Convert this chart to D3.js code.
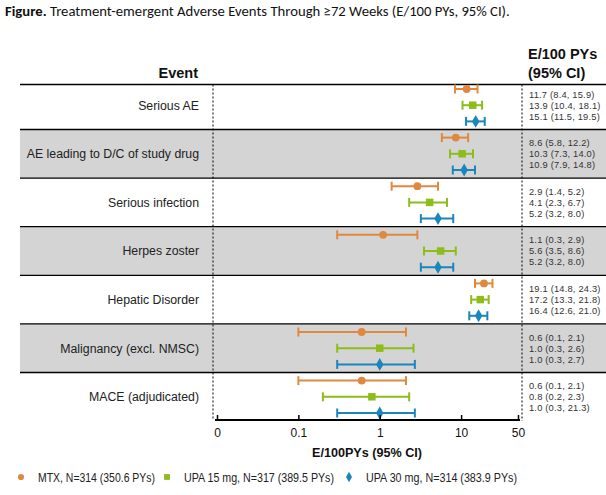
<!DOCTYPE html>
<html><head><meta charset="utf-8">
<script src="https://cdn.jsdelivr.net/npm/d3@7"></script>
<style>body{margin:0;background:#fff}svg{display:block}svg text{font-family:'Liberation Sans',Arial,sans-serif}svg text.title{font-family:Carlito,'Open Sans','Noto Sans',sans-serif}</style>
</head><body>
<svg id="c" width="606" height="495"></svg>
<script>
const events = ["Serious AE","AE leading to D/C of study drug","Serious infection","Herpes zoster","Hepatic Disorder","Malignancy (excl. NMSC)","MACE (adjudicated)"];
const seriesNames = ["MTX, N=314 (350.6 PYs)","UPA 15 mg, N=317 (389.5 PYs)","UPA 30 mg, N=314 (383.9 PYs)"];
const seriesColors = ["#E0883E","#8CBD1A","#1B86BB"];
const mtxEst = [11.7, 8.6, 2.9, 1.1, 19.1, 0.6, 0.6];
const mtxLo  = [8.4, 5.8, 1.4, 0.3, 14.8, 0.1, 0.1];
const mtxHi  = [15.9, 12.2, 5.2, 2.9, 24.3, 2.1, 2.1];
const upa15Est = [13.9, 10.3, 4.1, 5.6, 17.2, 1.0, 0.8];
const upa15Lo  = [10.4, 7.3, 2.3, 3.5, 13.3, 0.3, 0.2];
const upa15Hi  = [18.1, 14.0, 6.7, 8.6, 21.8, 2.6, 2.3];
const upa30Est = [15.1, 10.9, 5.2, 5.2, 16.4, 1.0, 1.0];
const upa30Lo  = [11.5, 7.9, 3.2, 3.2, 12.6, 0.3, 0.3];
const upa30Hi  = [19.5, 14.8, 8.0, 8.0, 21.0, 2.7, 2.7];
// CI column text as printed in the source table
const ciText = [
  ["11.7 (8.4, 15.9)","13.9 (10.4, 18.1)","15.1 (11.5, 19.5)"],
  ["8.6 (5.8, 12.2)","10.3 (7.3, 14.0)","10.9 (7.9, 14.8)"],
  ["2.9 (1.4, 5.2)","4.1 (2.3, 6.7)","5.2 (3.2, 8.0)"],
  ["1.1 (0.3, 2.9)","5.6 (3.5, 8.6)","5.2 (3.2, 8.0)"],
  ["19.1 (14.8, 24.3)","17.2 (13.3, 21.8)","16.4 (12.6, 21.0)"],
  ["0.6 (0.1, 2.1)","1.0 (0.3, 2.6)","1.0 (0.3, 2.7)"],
  ["0.6 (0.1, 2.1)","0.8 (0.2, 2.3)","1.0 (0.3, 21.3)"]
];
const tickValues = [0.01, 0.1, 1, 10, 50];
const tickLabels = ["0","0.1","1","10","50"];

const series = [
  {est: mtxEst, lo: mtxLo, hi: mtxHi, shape: "circle"},
  {est: upa15Est, lo: upa15Lo, hi: upa15Hi, shape: "square"},
  {est: upa30Est, lo: upa30Lo, hi: upa30Hi, shape: "diamond"}
];

const svg = d3.select("#c");

// Title
const title = svg.append("text").attr("class", "title").attr("x", 5).attr("y", 16)
  .attr("font-size", 12.5).attr("fill", "#111");
title.append("tspan").attr("font-weight", "bold").text("Figure.");
title.append("tspan").text(" Treatment-emergent Adverse Events Through \u226572 Weeks (E/100 PYs, 95% CI).");
{
  const w = title.node().getComputedTextLength();
  title.attr("font-size", 12.5 * 505 / w);
}

const x = d3.scaleLog().domain([0.01, 50]).range([217, 518]);
const nPts = events.length * 3;
const yPt = d3.scaleLinear().domain([0, nPts - 1]).range([89, 413]);
const step = (yPt(1) - yPt(0));
const rowTop = i => i === 0 ? 84.5 : yPt(3 * i) - step / 2;
const rowBot = i => i === events.length - 1 ? 420 : yPt(3 * i + 2) + step / 2;

// Row backgrounds
events.forEach((e, i) => {
  if (i % 2 === 1) {
    svg.append("rect").attr("x", 20).attr("y", rowTop(i)).attr("width", 586)
      .attr("height", rowBot(i) - rowTop(i)).attr("fill", "#D4D4D4");
  }
});
// Row separators
events.forEach((e, i) => {
  svg.append("line").attr("x1", 20).attr("x2", 606).attr("y1", rowTop(i)).attr("y2", rowTop(i))
    .attr("stroke", "#000").attr("stroke-width", 1.3);
});

// Dotted verticals
svg.append("line").attr("x1", 213).attr("x2", 213).attr("y1", 84.5).attr("y2", 420)
  .attr("stroke", "#000").attr("stroke-width", 1).attr("stroke-dasharray", "2,2");
svg.append("line").attr("x1", 522).attr("x2", 522).attr("y1", 84.5).attr("y2", 421)
  .attr("stroke", "#000").attr("stroke-width", 1).attr("stroke-dasharray", "2,2");

// Headers
svg.append("text").attr("x", 198).attr("y", 78).attr("text-anchor", "end")
  .attr("font-weight", "bold").attr("font-size", 14.5).attr("fill", "#111").text("Event");
svg.append("text").attr("x", 528).attr("y", 58.5)
  .attr("font-weight", "bold").attr("font-size", 14.5).attr("fill", "#111").text("E/100 PYs");
svg.append("text").attr("x", 528).attr("y", 78)
  .attr("font-weight", "bold").attr("font-size", 14.5).attr("fill", "#111").text("(95% CI)");

// Event labels and CI column
events.forEach((e, i) => {
  const cyc = yPt(3 * i + 1);
  svg.append("text").attr("x", 199).attr("y", cyc + 4.3).attr("text-anchor", "end")
    .attr("font-size", 12.3).attr("fill", "#222").text(e);
  ciText[i].forEach((t, k) => {
    svg.append("text").attr("x", 529).attr("y", cyc + (k - 1) * 11 + 3.4)
      .attr("font-size", 9.3).attr("letter-spacing", 0.2)
      .attr("fill", "#333").text(t);
  });
});

// Markers
const sym = {
  circle: d3.symbol().type(d3.symbolCircle).size(48)(),
  square: d3.symbol().type(d3.symbolSquare).size(56)(),
  diamond: d3.symbol().type(d3.symbolDiamond).size(48)()
};
series.forEach((s, k) => {
  const g = svg.append("g").attr("stroke", seriesColors[k]).attr("fill", seriesColors[k]);
  events.forEach((e, i) => {
    const yy = yPt(3 * i + k);
    g.append("line").attr("x1", x(s.lo[i])).attr("x2", x(s.hi[i])).attr("y1", yy).attr("y2", yy).attr("stroke-width", 2);
    [s.lo[i], s.hi[i]].forEach(v => {
      g.append("line").attr("x1", x(v)).attr("x2", x(v)).attr("y1", yy - 4.5).attr("y2", yy + 4.5).attr("stroke-width", 2);
    });
    g.append("path").attr("d", sym[s.shape]).attr("stroke", "none")
      .attr("transform", `translate(${x(s.est[i])},${yy})`);
  });
});

// Axis
const axis = d3.axisBottom(x).tickValues(tickValues).tickFormat((d, i) => tickLabels[i]).tickSize(0).tickPadding(6);
const ag = svg.append("g").attr("transform", "translate(0,420)").call(axis);
ag.select(".domain").remove();
ag.append("line").attr("x1", 215).attr("x2", 520).attr("y1", 0).attr("y2", 0).attr("stroke", "#000").attr("stroke-width", 2);
ag.selectAll(".tick").append("line").attr("y1", 0).attr("y2", -5).attr("stroke", "#000").attr("stroke-width", 1.5);
ag.selectAll(".tick text").attr("font-family", null).attr("font-size", 12).attr("fill", "#111").attr("dy", "0.9em");
svg.append("text").attr("x", 367).attr("y", 457).attr("text-anchor", "middle")
  .attr("font-weight", "bold").attr("font-size", 12.6).attr("fill", "#111").text("E/100PYs (95% CI)");

// Legend
const legX = [21, 167, 349];
const legW = [117, 150, 151];
const legSym = [
  d3.symbol().type(d3.symbolCircle).size(30)(),
  d3.symbol().type(d3.symbolSquare).size(34)(),
  d3.symbol().type(d3.symbolDiamond).size(32)()
];
seriesNames.forEach((n, k) => {
  svg.append("path").attr("d", legSym[k]).attr("fill", seriesColors[k])
    .attr("transform", `translate(${legX[k]},477)`);
  svg.append("text").attr("x", legX[k] + 17).attr("y", 482)
    .attr("font-size", 13).attr("fill", "#222")
    .attr("textLength", legW[k]).attr("lengthAdjust", "spacingAndGlyphs").text(n);
});
</script>
</body></html>
